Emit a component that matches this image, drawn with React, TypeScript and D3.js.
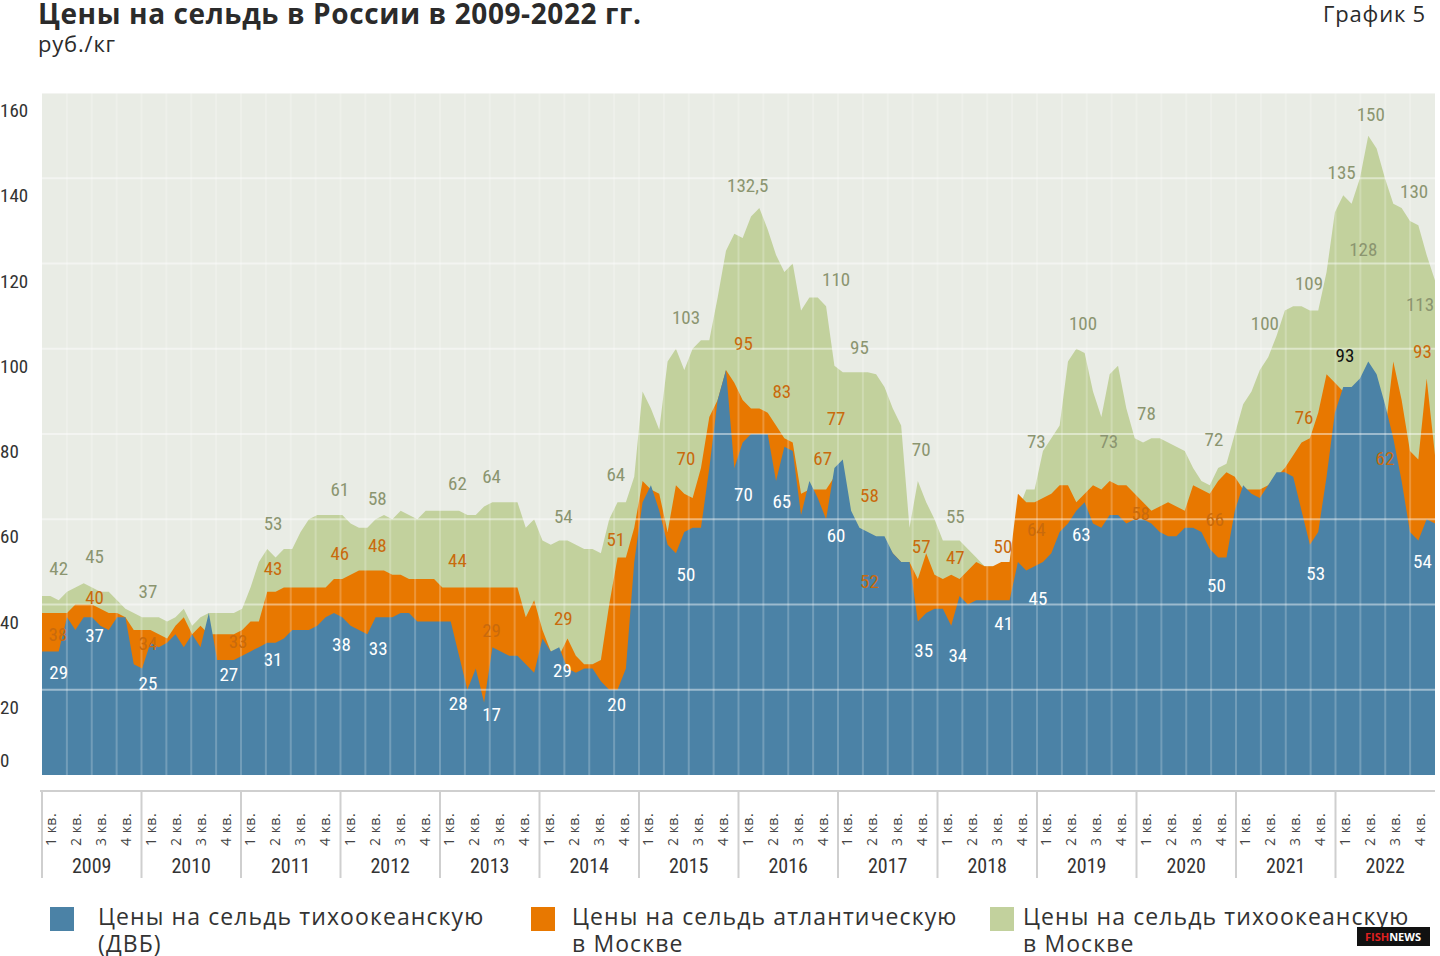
import React from "react";
import * as d3 from "d3";

const years = ["2009", "2010", "2011", "2012", "2013", "2014", "2015", "2016", "2017", "2018", "2019", "2020", "2021", "2022"];
const quarters = ["1 кв.", "2 кв.", "3 кв.", "4 кв."];
const yTicks = [0, 20, 40, 60, 80, 100, 120, 140, 160];

// monthly values, 2009-2022
const greenMoscow = [
  42, 42, 41, 43, 44, 45, 44, 43, 43, 41, 39, 38,
  37, 37, 37, 36, 37, 39, 35, 37, 38, 38, 38, 38,
  39, 44, 50, 53, 51, 53, 53, 57, 60, 61, 61, 61,
  61, 59, 58, 58, 60, 61, 60, 62, 61, 60, 62, 62,
  62, 62, 62, 61, 61, 63, 64, 64, 64, 64, 58, 60,
  55, 54, 55, 55, 54, 53, 53, 52, 60, 64, 64, 70,
  90, 86, 81, 97, 100, 95, 100, 102, 102, 112, 123, 127,
  126, 131, 133, 128, 122, 118, 120, 109, 112, 112, 110, 96,
  94.5, 94.5, 94.5, 94.5, 94, 91, 86, 82, 58, 69, 64, 60,
  55, 55, 55, 53, 51, 49, 49, 49, 50, 62, 67, 67,
  76, 79, 82, 97, 100, 99, 90, 84, 94, 96, 86, 79,
  78, 79, 79, 78, 77, 76, 72, 69, 68, 72, 73, 80,
  87, 90, 95, 98, 103, 109, 110, 110, 109, 109, 118, 132,
  136, 134, 140, 150, 147, 140, 134, 133, 130, 129, 122, 116,
];
const orangeMoscow = [
  38, 38, 38, 38, 40, 40, 40, 39, 38, 38, 37, 34,
  34, 34, 33, 32, 35, 37, 33, 35, 33, 33, 33, 33,
  34, 36, 36, 43, 43, 44, 44, 44, 44, 44, 44, 46,
  46, 47, 48, 48, 48, 48, 47, 47, 46, 46, 46, 46,
  44, 44, 44, 44, 44, 44, 44, 44, 44, 44, 37, 41,
  34, 29, 28, 32, 28, 26, 26, 27, 40, 51, 51, 58,
  69, 67, 66, 57, 68, 66, 65, 72, 84, 88, 95, 92,
  88, 86, 86, 85, 82, 79, 78, 66, 67, 67, 67, 70,
  70, 58, 56, 56, 55, 55, 52, 50, 50, 46, 52, 47,
  46, 47, 46, 48, 50, 49, 49, 50, 50, 66, 64, 64,
  65, 66, 68, 68, 64, 66, 68, 67, 69, 68, 68, 66,
  64, 62, 63, 64, 63, 62, 68, 67, 66, 69, 71, 70,
  67, 67, 67, 68, 70, 72, 75, 78, 79, 85, 94, 92,
  90, 88, 88, 90, 88, 80, 97, 88, 76, 74, 93, 75,
];
const bluePacific = [
  29, 29, 29, 37, 34, 37, 37, 35, 34, 37, 37, 26,
  25, 31, 30, 31, 33, 30, 33, 30, 38, 27, 27, 27,
  28, 29, 30, 31, 31, 32, 34, 34, 34, 35, 37, 38,
  37, 35, 34, 33, 37, 37, 37, 38, 38, 36, 36, 36,
  36, 36, 28, 20, 25, 17, 30, 29, 28, 28, 26, 24,
  32, 29, 30, 25, 24, 25, 25, 22, 20, 20, 25, 50,
  64, 68, 62, 54, 52, 57, 58, 58, 72, 88, 95, 72,
  78, 80, 80, 80, 69, 77, 76, 61, 69, 65, 60, 72,
  74, 62, 58, 57, 56, 56, 52, 50, 50, 36, 38, 39,
  39, 35, 42, 40, 41, 41, 41, 41, 41, 50, 48, 49,
  50, 52, 57, 59, 62, 64, 59, 58, 61, 61, 59, 60,
  60, 59, 57, 56, 56, 58, 58, 57, 53, 51, 51, 62,
  68, 66, 65, 68, 71, 71, 70, 62, 54, 57, 70, 85,
  91, 91, 93, 97, 94, 87, 79, 69, 57, 55, 60, 59,
];

// value annotations: [month position, value position, text]
const greenLabels: [number, number, string][] = [
  [2, 48, "42"], [6.3, 51, "45"], [12.7, 42.7, "37"], [27.7, 58.7, "53"], [35.7, 66.7, "61"],
  [40.2, 64.6, "58"], [49.8, 68, "62"], [53.9, 69.7, "64"], [62.5, 60.3, "54"], [68.8, 70.2, "64"],
  [77.2, 107, "103"], [84.6, 138, "132,5"], [95.2, 116, "110"], [98, 100, "95"], [105.4, 76, "70"],
  [109.5, 60.3, "55"], [119.2, 78, "73"], [124.8, 105.6, "100"], [127.9, 78, "73"], [132.4, 84.5, "78"],
  [140.5, 78.4, "72"], [146.6, 105.6, "100"], [151.9, 115, "109"], [155.8, 141, "135"], [159.3, 154.7, "150"],
  [158.4, 123, "128"], [164.5, 136.6, "130"], [165.2, 110, "113"],
];
const orangeLabels: [number, number, string][] = [
  [1.9, 32.6, "38"], [6.3, 41.3, "40"], [12.7, 30.5, "34"], [23.5, 31, "33"], [27.7, 48, "43"],
  [35.7, 51.6, "46"], [40.2, 53.5, "48"], [49.8, 50, "44"], [53.9, 33.6, "29"], [62.5, 36.4, "29"],
  [68.8, 55, "51"], [77.2, 74, "70"], [84.1, 101, "95"], [88.7, 89.7, "83"], [95.2, 83.3, "77"],
  [93.6, 74, "67"], [99.2, 65.3, "58"], [99.2, 45, "52"], [105.4, 53.3, "57"], [109.5, 50.7, "47"],
  [115.2, 53.3, "50"], [119.2, 57.3, "64"], [131.7, 61, "58"], [140.6, 59.6, "66"], [151.3, 83.6, "76"],
  [161, 74, "62"], [165.5, 99, "93"],
];
const blueLabels: [number, number, string][] = [
  [2, 23.7, "29"], [6.3, 32.4, "37"], [12.7, 21.1, "25"], [22.4, 23.2, "27"], [27.7, 26.8, "31"],
  [35.9, 30.3, "38"], [40.3, 29.3, "33"], [49.9, 16.4, "28"], [53.9, 13.8, "17"], [62.4, 24.2, "29"],
  [68.9, 16.2, "20"], [77.2, 46.7, "50"], [84.1, 65.5, "70"], [88.7, 63.8, "65"], [95.2, 55.9, "60"],
  [105.7, 28.9, "35"], [109.8, 27.7, "34"], [115.3, 35.2, "41"], [119.4, 41, "45"], [124.6, 56, "63"],
  [140.8, 44, "50"], [152.7, 47, "53"], [165.5, 49.8, "54"],
];
const blackLabels: [number, number, string][] = [[156.2, 98, "93"]];

const legendItems = [
  { color: "#4b82a6", lines: ["Цены на сельдь тихоокеанскую", "(ДВБ)"] },
  { color: "#e87800", lines: ["Цены на сельдь атлантическую", "в Москве"] },
  { color: "#c2d19d", lines: ["Цены на сельдь тихоокеанскую", "в Москве"] },
];

const W = 1440;
const H = 956;
const left = 42;
const right = 1435;
const top = 93;
const bottom = 775;
const narrow = "'Liberation Sans Narrow', 'Roboto Condensed', 'DejaVu Sans Condensed', sans-serif";
const wide = "'Open Sans', 'Noto Sans', sans-serif";

const App: React.FC = () => {
  const x = d3.scaleLinear().domain([0, greenMoscow.length - 1]).range([left, right]);
  const y = d3.scaleLinear().domain([0, 160]).range([bottom, top]);
  const yearBand = d3.scaleBand<string>().domain(years).range([left, right]);
  const area = d3
    .area<number>()
    .x((_, i) => x(i))
    .y0(y(0))
    .y1((d) => y(d));

  const quarterLines = d3.range(0, years.length * 4 + 1).map((q) => left + (q * (right - left)) / (years.length * 4));

  const labelSet = (arr: [number, number, string][], fill: string) =>
    arr.map(([i, v, t], k) => (
      <text key={k} x={x(i)} y={y(v)} textAnchor="middle" dominantBaseline="middle" fill={fill} fontSize={19} fontFamily={narrow}>
        {t}
      </text>
    ));

  return (
    <svg width={W} height={H} style={{ display: "block", position: "absolute", left: 0, top: 0, background: "#fff" }}>
      <text x={38} y={24} fontFamily={wide} fontWeight={700} fontSize={28} letterSpacing={0.6} fill="#2b2b2b">
        Цены на сельдь в России в 2009-2022 гг.
      </text>
      <text x={38} y={52} fontFamily={wide} fontSize={22} letterSpacing={0.8} fill="#2b2b2b">руб./кг</text>
      <text x={1426} y={22} textAnchor="end" fontFamily={wide} fontSize={22} letterSpacing={0.8} fill="#2b2b2b">График 5</text>

      <rect x={left} y={top} width={right - left} height={bottom - top} fill="#e9ece5" />
      <path d={area(greenMoscow) ?? ""} fill="#c2d19d" />
      <path d={area(orangeMoscow) ?? ""} fill="#e87800" />
      <path d={area(bluePacific) ?? ""} fill="#4b82a6" />

      {yTicks.slice(1).map((t) => (
        <line key={t} x1={left} x2={right} y1={y(t)} y2={y(t)} stroke="#fff" strokeOpacity={0.45} strokeWidth={2} />
      ))}
      {quarterLines.slice(1, -1).map((qx, k) => (
        <line key={k} x1={qx} x2={qx} y1={top} y2={bottom} stroke="#fff" strokeOpacity={0.22} strokeWidth={2} />
      ))}

      {yTicks.map((t) => (
        <text key={t} x={0} y={t === 0 ? 767 : y(t) + 24} fontFamily={narrow} fontSize={19} fill="#333">
          {t}
        </text>
      ))}

      {labelSet(greenLabels, "#8b9570")}
      {labelSet(orangeLabels, "#c96a0c")}
      {labelSet(blueLabels, "#ffffff")}
      {labelSet(blackLabels, "#111")}

      <line x1={left - 2} x2={right} y1={791} y2={791} stroke="#cfcfcf" strokeWidth={2} />
      {years.map((yr) => {
        const x0 = yearBand(yr) ?? 0;
        const bw = yearBand.bandwidth();
        return (
          <g key={yr}>
            <line x1={x0} x2={x0} y1={791} y2={878} stroke="#cfcfcf" strokeWidth={2} />
            {quarters.map((q, k) => {
              const qx = x0 + (bw * (k + 0.5)) / 4 + 2;
              return (
                <text key={q} transform={`translate(${qx},846) rotate(-90)`} fontFamily={wide} fontSize={14} letterSpacing={0.5} fill="#444">
                  {q}
                </text>
              );
            })}
            <text x={x0 + bw / 2} y={873} textAnchor="middle" fontFamily={narrow} fontSize={20} fill="#333">
              {yr}
            </text>
          </g>
        );
      })}

      {legendItems.map((it, k) => {
        const lx = [50, 531, 990][k];
        const tx = [98, 572, 1023][k];
        return (
          <g key={k}>
            <rect x={lx} y={907} width={24} height={24} fill={it.color} />
            {it.lines.map((l, j) => (
              <text key={j} x={tx} y={925 + j * 27} fontFamily={wide} fontSize={23} letterSpacing={1.1} fill="#333">
                {l}
              </text>
            ))}
          </g>
        );
      })}

      <rect x={1357} y={927} width={73} height={19} fill="#111" />
      <text x={1393} y={941} textAnchor="middle" fontFamily={wide} fontWeight={700} fontSize={11} fill="#fff">
        <tspan fill="#e02020">FISH</tspan>NEWS
      </text>
    </svg>
  );
};

export default App;
